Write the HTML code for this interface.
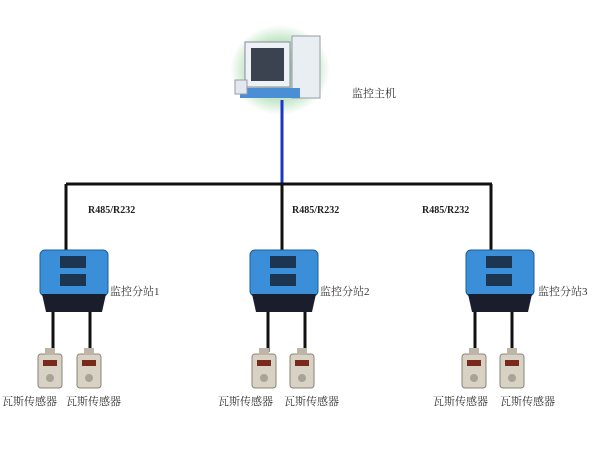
<!DOCTYPE html>
<html><head><style>
body{margin:0;width:600px;height:450px;background:#fff;position:relative;overflow:hidden;font-family:"Liberation Serif","Noto Serif CJK SC",serif;}
.t{position:absolute;font-size:11px;color:#333;white-space:nowrap}
.r{position:absolute;font-size:10px;font-weight:bold;color:#222}
</style></head><body>
<svg width="600" height="450" style="position:absolute;left:0;top:0">
<defs>
<radialGradient id="g" cx="50%" cy="50%" r="50%"><stop offset="0" stop-color="#7fc98a"/><stop offset="0.7" stop-color="#c8e8cc"/><stop offset="1" stop-color="#fff"/></radialGradient>
<g id="st">
<rect x="0" y="0" width="68" height="46" rx="5" fill="#3a8fd8" stroke="#1b5d99"/>
<rect x="20" y="6" width="26" height="12" fill="#1c3550"/>
<rect x="20" y="24" width="26" height="12" fill="#1c3550"/>
<path d="M2 44 H66 L62 62 H6 Z" fill="#1a1d2c"/>
</g>
<g id="sn">
<rect x="0" y="6" width="24" height="34" rx="3" fill="#d8d2c4" stroke="#8a8478"/>
<rect x="7" y="0" width="10" height="7" fill="#bdb6a8"/>
<rect x="5" y="12" width="14" height="6" fill="#7a2a1c"/>
<circle cx="12" cy="30" r="4" fill="#a9a397"/>
</g>
</defs>
<ellipse cx="280" cy="70" rx="50" ry="45" fill="url(#g)"/>
<rect x="245" y="42" width="45" height="45" fill="#eef2f6" stroke="#889"/>
<rect x="251" y="48" width="33" height="33" fill="#3b4350"/>
<rect x="292" y="36" width="28" height="62" fill="#e9eef2" stroke="#99a"/>
<rect x="240" y="88" width="60" height="10" fill="#4a8fd6"/>
<rect x="235" y="80" width="12" height="14" fill="#e3e8ee" stroke="#99a"/>
<line x1="282" y1="100" x2="282" y2="184" stroke="#1a35c8" stroke-width="3"/>
<line x1="66" y1="184" x2="492" y2="184" stroke="#111" stroke-width="3"/>
<g stroke="#111" stroke-width="3">
<line x1="66" y1="184" x2="66" y2="252"/><line x1="282" y1="184" x2="282" y2="252"/><line x1="491" y1="184" x2="491" y2="252"/>
<line x1="53" y1="312" x2="53" y2="352"/><line x1="90" y1="312" x2="90" y2="352"/>
<line x1="268" y1="312" x2="268" y2="352"/><line x1="305" y1="312" x2="305" y2="352"/>
<line x1="475" y1="312" x2="475" y2="352"/><line x1="512" y1="312" x2="512" y2="352"/>
</g>
<use href="#st" x="40" y="250"/><use href="#st" x="250" y="250"/><use href="#st" x="466" y="250"/>
<use href="#sn" x="38" y="348"/><use href="#sn" x="77" y="348"/>
<use href="#sn" x="252" y="348"/><use href="#sn" x="290" y="348"/>
<use href="#sn" x="462" y="348"/><use href="#sn" x="500" y="348"/>
</svg>
<div class="t" style="left:352px;top:85px">监控主机</div>
<div class="r" style="left:88px;top:205px">R485/R232</div>
<div class="r" style="left:292px;top:205px">R485/R232</div>
<div class="r" style="left:422px;top:205px">R485/R232</div>
<div class="t" style="left:110px;top:283px">监控分站1</div>
<div class="t" style="left:320px;top:283px">监控分站2</div>
<div class="t" style="left:538px;top:283px">监控分站3</div>
<div class="t" style="left:2px;top:393px">瓦斯传感器</div>
<div class="t" style="left:66px;top:393px">瓦斯传感器</div>
<div class="t" style="left:218px;top:393px">瓦斯传感器</div>
<div class="t" style="left:284px;top:393px">瓦斯传感器</div>
<div class="t" style="left:433px;top:393px">瓦斯传感器</div>
<div class="t" style="left:500px;top:393px">瓦斯传感器</div>
</body></html>
